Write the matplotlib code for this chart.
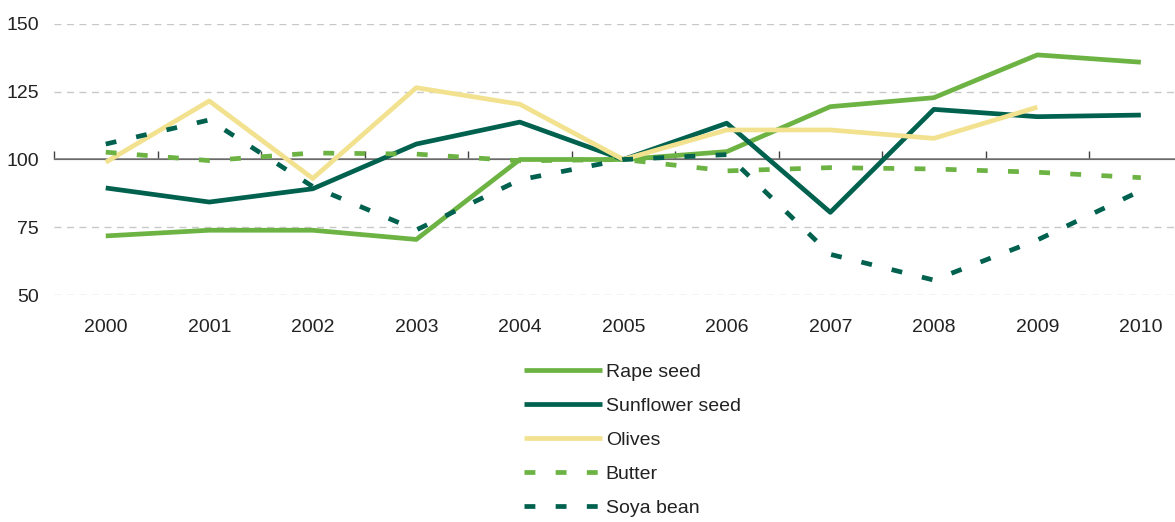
import matplotlib
matplotlib.use("Agg")
import matplotlib.pyplot as plt
from matplotlib.ticker import FixedLocator, NullFormatter

# data (index, 2005 = 100)
years = ["2000", "2001", "2002", "2003", "2004", "2005", "2006", "2007", "2008", "2009", "2010"]
rape_seed = [71.8, 73.9, 73.9, 70.5, 100.0, 100.0, 102.9, 119.5, 122.8, 138.6, 135.9]
sunflower_seed = [89.5, 84.3, 89.2, 105.7, 113.8, 100.0, 113.4, 80.5, 118.5, 115.8, 116.4]
olives = [99.0, 121.6, 93.0, 126.5, 120.4, 100.0, 110.9, 110.9, 107.8, 119.3]
butter = [102.7, 99.6, 102.4, 102.0, 99.5, 100.0, 95.8, 97.0, 96.5, 95.3, 93.3]
soya_bean = [105.7, 114.6, 90.0, 74.0, 92.5, 100.0, 101.8, 65.0, 55.5, 70.3, 88.5]

light_green = "#6cb343"
dark_green = "#00614f"
yellow = "#f2e28f"
txt = "#222222"

plt.rcParams["font.family"] = ["Liberation Sans", "DejaVu Sans"]
fs = 14

fig = plt.figure(figsize=(11.75, 5.22), dpi=100)
ax = fig.add_axes([54 / 1175, 1 - 295 / 522, 1 - 54 / 1175, (295 - 24) / 522])

x = list(range(len(years)))
lw = 3.4
dash = (2.3, 4.3)
ax.plot(x, rape_seed, color=light_green, lw=lw, label="Rape seed", solid_capstyle="butt", zorder=3)
ax.plot(x, sunflower_seed, color=dark_green, lw=lw, label="Sunflower seed", solid_capstyle="butt", zorder=3)
ax.plot(x[:len(olives)], olives, color=yellow, lw=lw, label="Olives", solid_capstyle="butt", zorder=3)
ax.plot(x, butter, color=light_green, lw=lw, label="Butter", dashes=dash, dash_capstyle="butt", zorder=3)
ax.plot(x, soya_bean, color=dark_green, lw=lw, label="Soya bean", dashes=dash, dash_capstyle="butt", zorder=3)

ax.set_xlim(-0.5, 10.33)
ax.set_ylim(50, 150)

# grid
for g in [50, 75, 125, 150]:
    ax.axhline(g, color="#c8c8c8", lw=1, dashes=(5, 4), zorder=1)
ax.axhline(100, color="#808080", lw=1.2, zorder=2)

for s in ax.spines.values():
    s.set_visible(False)

ax.set_yticks([50, 75, 100, 125, 150])
ax.tick_params(axis="y", length=0, pad=11, labelsize=fs, labelcolor=txt)
ax.set_xticks(x)
ax.set_xticklabels(years)
ax.tick_params(axis="x", length=0, pad=17, labelsize=fs, labelcolor=txt)

# category axis crossing at 100
sec = ax.secondary_xaxis(0.5)
sec.spines["bottom"].set_visible(False)
sec.xaxis.set_major_locator(FixedLocator([i - 0.5 for i in range(12)]))
sec.xaxis.set_major_formatter(NullFormatter())
sec.tick_params(axis="x", direction="out", length=6, width=1, color="#404040")

fig.legend(loc="upper left", bbox_to_anchor=(524 / 1175, 1 - 363 / 522), frameon=False,
           fontsize=fs, handlelength=4.0, handletextpad=0.2, labelspacing=0.85,
           borderpad=0, borderaxespad=0, labelcolor=txt)

fig.savefig("out.png", dpi=100)
